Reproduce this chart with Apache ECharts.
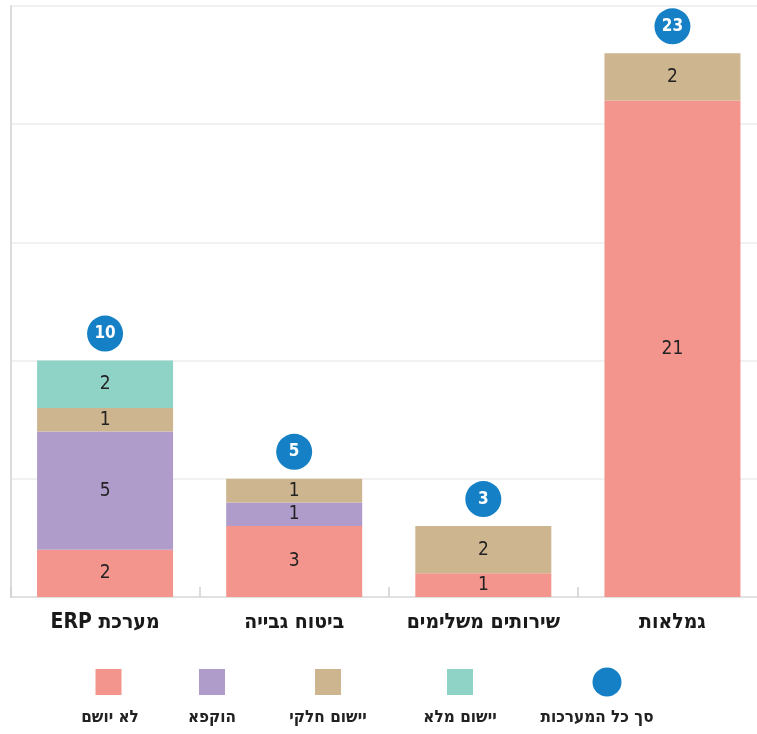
<!DOCTYPE html>
<html>
<head>
<meta charset="utf-8">
<script src="https://cdn.jsdelivr.net/npm/echarts@6/dist/echarts.min.js"></script>
<style>
html,body{margin:0;padding:0;background:#fff;overflow:hidden;width:757px;height:734px;}
#chart{width:767px;height:734px;}
</style>
</head>
<body>
<div id="chart" dir="rtl"></div>
<script>
const categories = ['מערכת ERP', 'ביטוח גבייה', 'שירותים משלימים', 'גמלאות'];
const notImplemented = [2, 3, 1, 21];   // לא יושם
const frozen = [5, 1, 0, 0];            // הוקפא
const partial = [1, 1, 2, 2];           // יישום חלקי
const full = [2, 0, 0, 0];              // יישום מלא
const totals = [10, 5, 3, 23];          // סך כל המערכות
const seriesNames = ['לא יושם', 'הוקפא', 'יישום חלקי', 'יישום מלא'];
const totalName = 'סך כל המערכות';

const colors = ['#f4958d', '#b09ccb', '#cdb58f', '#8fd3c6'];
const blue = '#1580c5';
const FONT = "'DejaVu Sans Condensed','DejaVu Sans',sans-serif";

const chart = echarts.init(document.getElementById('chart'), null, {renderer: 'canvas'});

const stackData = [notImplemented, frozen, partial, full];
const barSeries = stackData.map((d, i) => ({
  name: seriesNames[i],
  type: 'bar',
  stack: 'total',
  barWidth: 136,
  itemStyle: {color: colors[i]},
  label: {
    show: true,
    position: 'inside',
    color: '#222',
    fontFamily: FONT,
    fontSize: 19,
    formatter: p => p.value > 0 ? String(p.value) : ''
  },
  data: d.map(v => v === 0 ? null : v)
}));

// legend as graphic (icon above text)
const legendItems = [
  {name: seriesNames[0], color: colors[0], x: 108.5, tx: 110, type: 'rect'},
  {name: seriesNames[1], color: colors[1], x: 212, tx: 212, type: 'rect'},
  {name: seriesNames[2], color: colors[2], x: 328, tx: 328, type: 'rect'},
  {name: seriesNames[3], color: colors[3], x: 460, tx: 460, type: 'rect'},
  {name: totalName, color: blue, x: 607, tx: 597, type: 'circle'}
];
const graphics = [];
legendItems.forEach(it => {
  if (it.type === 'rect') {
    graphics.push({type: 'rect', shape: {x: it.x - 13, y: 669, width: 26, height: 26}, style: {fill: it.color}});
  } else {
    graphics.push({type: 'circle', shape: {cx: it.x, cy: 682, r: 14.5}, style: {fill: it.color}});
  }
  graphics.push({type: 'text', x: it.tx, y: 718, style: {text: it.name, fill: '#222', font: "bold 17px " + FONT, textAlign: 'center', textVerticalAlign: 'middle'}});
});

chart.setOption({
  animation: false,
  backgroundColor: '#fff',
  grid: {left: 10.5, right: 0, top: 6, bottom: 137, containLabel: false},
  xAxis: {
    type: 'category',
    data: categories,
    axisLine: {lineStyle: {color: '#dcdcdc', width: 1.5}},
    axisTick: {show: true, inside: true, length: 10, interval: 0, lineStyle: {color: '#cfcfcf', width: 1.5}},
    axisLabel: {interval: 0, color: '#1a1a1a', fontFamily: FONT, fontSize: 21, fontWeight: 'bold', margin: 15}
  },
  yAxis: {
    type: 'value',
    min: 0, max: 25, interval: 5,
    axisLine: {show: true, lineStyle: {color: '#dcdcdc', width: 2}},
    axisTick: {show: false},
    axisLabel: {show: false},
    splitLine: {lineStyle: {color: '#ececec', width: 1.5}}
  },
  series: barSeries.concat([{
    name: totalName,
    type: 'scatter',
    symbol: 'circle',
    symbolSize: 36,
    symbolOffset: [0, -27],
    itemStyle: {color: blue, opacity: 1},
    label: {
      show: true,
      position: 'inside',
      color: '#fff',
      fontWeight: 'bold',
      fontFamily: FONT,
      fontSize: 17,
      formatter: p => String(p.value)
    },
    z: 5,
    data: totals
  }]),
  graphic: graphics
});
</script>
</body>
</html>
